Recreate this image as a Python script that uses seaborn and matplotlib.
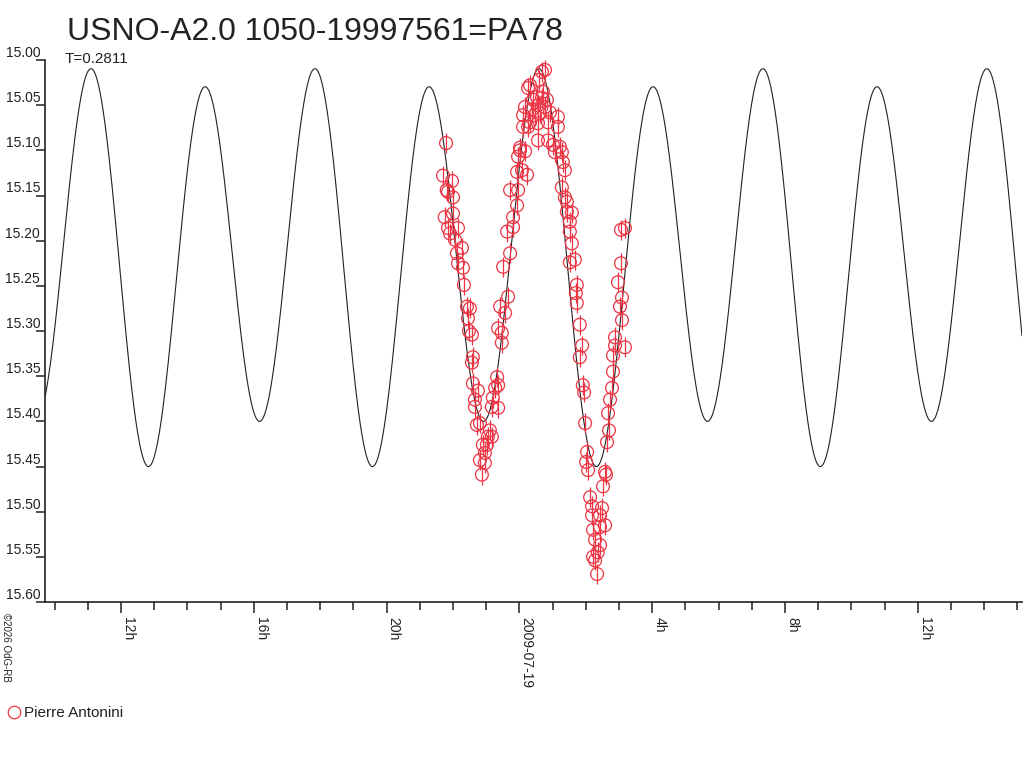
import numpy as np
import pandas as pd
import seaborn as sns
import matplotlib.pyplot as plt
from matplotlib.ticker import MultipleLocator, FixedLocator, FixedFormatter
from matplotlib.lines import Line2D

# observations: hours from 2009-07-19 00:00 UT, magnitude
obs_hours = [
    -2.21, -2.30, -2.03, -2.19, -2.15, -2.00, -2.25, -2.00, -2.15, -1.85,
    -2.09, -1.94, -1.73, -1.88, -1.85, -1.70, -1.67, -1.58, -1.49, -1.55,
    -1.52, -1.43, -1.40, -1.43, -1.40, -1.25, -1.34, -1.34, -1.28, -1.19,
    -0.89, -0.95, -0.83, -0.98, -1.10, -1.04, -1.19, -1.04, -1.13,
    -0.67, -0.64, -0.73, -0.80, -0.83, -0.64, -0.64, -0.53, -0.53, -0.58,
    -0.43, -0.34, -0.49, -0.28, -0.37, -0.19, -0.19, -0.07, -0.28, -0.04,
    -0.07, 0.08, 0.23, -0.04, 0.02, 0.17, 0.11, 0.26, 0.56,
    0.77, 0.68, 0.32, 0.26, 0.71, 0.53, 0.68, 0.83, 0.41, 0.56,
    0.77, 0.17, 0.38, 0.92, 0.62, 0.11, 0.47, 1.16, 0.32, 0.86,
    0.56, 1.16, 0.86, 1.01, 1.22, 0.02, 1.07, 1.28, 1.31, 1.37,
    1.28, 1.37, 1.43, 1.43, 1.58, 1.52, 1.52, 0.59,
    1.58, 1.52, 1.67, 1.73, 1.70, 1.73, 1.82, 1.89, 1.82, 1.91,
    1.95, 1.98, 2.04, 2.01, 2.07,
    2.13, 2.19, 2.49, 2.19, 2.43, 2.58, 2.43, 2.22, 2.28, 2.43,
    2.36, 2.22, 2.28, 2.34,
    2.67, 2.70, 2.64, 2.58, 2.61, 2.52,
    3.18, 3.06, 2.97, 3.09, 3.03, 3.09, 2.88, 3.18, 2.88, 2.82,
    2.82, 2.79, 2.73, 3.06,
]
obs_mag = [
    15.092, 15.128, 15.134, 15.144, 15.146, 15.152, 15.174, 15.170, 15.186, 15.186,
    15.192, 15.199, 15.208, 15.214, 15.225, 15.230, 15.249, 15.273, 15.275, 15.286,
    15.300, 15.304, 15.329, 15.335, 15.358, 15.366, 15.376, 15.384, 15.404, 15.402,
    15.410, 15.417, 15.417, 15.426, 15.426, 15.435, 15.443, 15.446, 15.459,
    15.351, 15.360, 15.363, 15.374, 15.384, 15.385, 15.297, 15.302, 15.313, 15.273,
    15.280, 15.262, 15.229, 15.214, 15.190, 15.185, 15.174, 15.161, 15.144, 15.144,
    15.124, 15.122, 15.127, 15.107, 15.100, 15.101, 15.074, 15.074, 15.089,
    15.011, 15.013, 15.028, 15.031, 15.035, 15.041, 15.042, 15.044, 15.044, 15.050,
    15.052, 15.052, 15.055, 15.058, 15.059, 15.061, 15.061, 15.063, 15.069, 15.069,
    15.070, 15.074, 15.089, 15.094, 15.096, 15.097, 15.102, 15.102, 15.113, 15.122,
    15.141, 15.152, 15.157, 15.168, 15.169, 15.179, 15.190, 15.022,
    15.203, 15.224, 15.221, 15.249, 15.258, 15.269, 15.293, 15.316, 15.329, 15.360,
    15.368, 15.402, 15.434, 15.445, 15.454,
    15.484, 15.494, 15.496, 15.504, 15.504, 15.515, 15.517, 15.520, 15.531, 15.537,
    15.545, 15.550, 15.554, 15.569,
    15.391, 15.410, 15.423, 15.456, 15.459, 15.472,
    15.186, 15.225, 15.246, 15.263, 15.273, 15.288, 15.307, 15.318, 15.316, 15.327,
    15.345, 15.363, 15.376, 15.188,
]
obs_err = 0.011

# fitted double-wave model
period_days = 0.2811
t_max_hours = 0.62      # time of the brightest maximum
mean_mag = 15.2225
amp_second = 0.2025     # half of the main (two-per-cycle) swing
amp_cos = -0.010        # maxima 15.01 / 15.03
amp_sin = 0.025         # minima 15.45 / 15.40

tick_hours = [-12, -8, -4, 0, 4, 8, 12]
tick_labels = ["12h", "16h", "20h", "2009-07-19", "4h", "8h", "12h"]
y_ticks = [15.00, 15.05, 15.10, 15.15, 15.20, 15.25, 15.30, 15.35, 15.40,
           15.45, 15.50, 15.55, 15.60]

title = "USNO-A2.0 1050-19997561=PA78"
observer = "Pierre Antonini"

sns.set_style("ticks")
plt.rcParams['font.family'] = ['Liberation Sans', 'DejaVu Sans']

x_lo, x_hi = -14.29, 15.14
ink = "#222222"
red = "#ec3444"

fig = plt.figure(figsize=(10.24, 7.68), dpi=100)
ax = fig.add_axes([45 / 1024, 1 - 602 / 768, (1022 - 45) / 1024, 542 / 768])

# model curve
tt = np.linspace(x_lo, x_hi, 3000)
phi = 2 * np.pi * (tt - t_max_hours) / (period_days * 24)
model = pd.DataFrame({
    "hours": tt,
    "mag": mean_mag - amp_second * np.cos(2 * phi) + amp_cos * np.cos(phi) + amp_sin * np.sin(phi),
})
sns.lineplot(data=model, x="hours", y="mag", ax=ax, color=ink, lw=0.8, sort=False)

# observations
obs = pd.DataFrame({"hours": obs_hours, "mag": obs_mag})
ax.errorbar(obs["hours"], obs["mag"], yerr=obs_err, fmt="none", ecolor=red, elinewidth=0.9)
sns.scatterplot(data=obs, x="hours", y="mag", ax=ax, marker="o", s=85,
                facecolor="none", edgecolor=red, linewidth=0.9, zorder=3)

ax.set_xlim(x_lo, x_hi)
ax.set_ylim(15.60, 15.00)
ax.set_xlabel("")
ax.set_ylabel("")

sns.despine(ax=ax, top=True, right=True)
for s in ["left", "bottom"]:
    ax.spines[s].set_color(ink)
    ax.spines[s].set_linewidth(1.2)

ax.xaxis.set_major_locator(FixedLocator(tick_hours))
ax.xaxis.set_major_formatter(FixedFormatter(tick_labels))
ax.xaxis.set_minor_locator(MultipleLocator(1))
ax.tick_params(axis="x", which="major", length=8, width=1.1, color=ink, pad=3,
               labelsize=10, labelcolor=ink)
ax.tick_params(axis="x", which="minor", length=6, width=1.1, color=ink)
for lbl in ax.get_xticklabels():
    lbl.set_rotation(-90)
    lbl.set_ha("left")
    lbl.set_va("top")

ax.set_yticks(y_ticks)
ax.set_yticklabels([f"{v:.2f}" for v in y_ticks])
ax.tick_params(axis="y", length=6.5, width=1.1, color=ink, pad=-3,
               labelsize=10, labelcolor=ink)
for lbl in ax.get_yticklabels():
    lbl.set_va("bottom")

fig.text(67 / 1024, 1 - 40 / 768, title, fontsize=23, color=ink, va="baseline")
fig.text(65 / 1024, 1 - 63 / 768, "T=0.2811", fontsize=11, color=ink, va="baseline")
fig.text(1 / 1024, 1 - 613 / 768, "\u00a92026 OdG-RB", fontsize=7, color=ink,
         rotation=-90, ha="left", va="top")

handle = Line2D([], [], ls="none", marker="o", ms=9, mfc="none", mec=red, mew=0.9)
fig.legend([handle], [observer], loc="center left", bbox_to_anchor=(-0.006, 1 - 713 / 768),
           frameon=False, fontsize=11, handlelength=0.8, handletextpad=0.3,
           labelcolor=ink)

fig.savefig("out.png", dpi=100)
